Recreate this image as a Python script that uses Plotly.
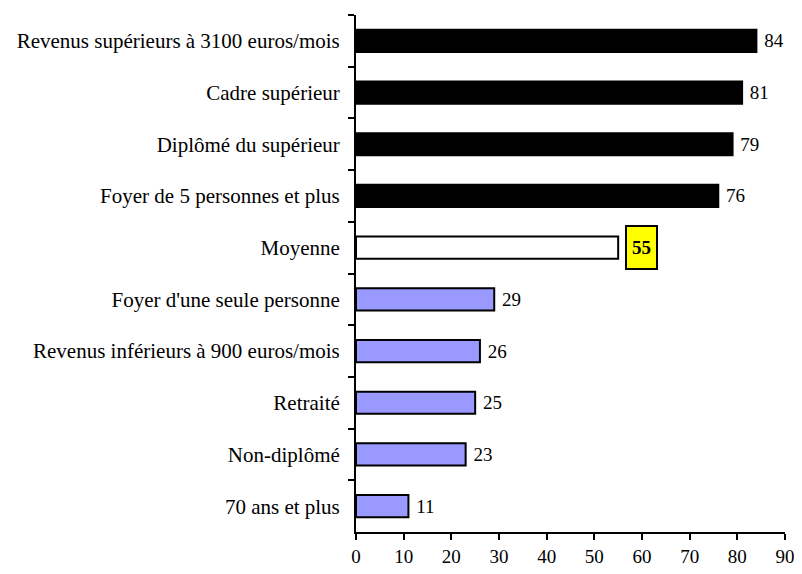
import plotly.graph_objects as go

categories = [
  "Revenus supérieurs à 3100 euros/mois",
  "Cadre supérieur",
  "Diplômé du supérieur",
  "Foyer de 5 personnes et plus",
  "Moyenne",
  "Foyer d'une seule personne",
  "Revenus inférieurs à 900 euros/mois",
  "Retraité",
  "Non-diplômé",
  "70 ans et plus",
]
values = [84, 81, 79, 76, 55, 29, 26, 25, 23, 11]
bar_colors = ["#000000"] * 4 + ["#ffffff"] + ["#9999ff"] * 5
x_ticks = [0, 10, 20, 30, 40, 50, 60, 70, 80, 90]

font_family = "Liberation Serif, Times New Roman, serif"

# leading nbsp gives the gap between bar end and its value
labels = ["" if c == "Moyenne" else "\u00a0" + str(v) for c, v in zip(categories, values)]

fig = go.Figure(
  go.Bar(
    x=values,
    y=categories,
    orientation="h",
    marker={"color": bar_colors, "line": {"color": "#000000", "width": 2}},
    text=labels,
    textposition="outside",
    textfont={"size": 19, "color": "#000000", "family": font_family},
    cliponaxis=False,
    width=0.43,
  )
)

# highlighted average value
fig.add_annotation(
  x=55, y="Moyenne",
  text="<b>55</b>",
  showarrow=False,
  xanchor="left",
  xshift=7,
  bgcolor="#ffff00",
  bordercolor="#000000",
  borderwidth=2,
  borderpad=0,
  width=29,
  height=41,
  font={"size": 19, "color": "#000000", "family": font_family},
)

# page body has an 8px margin, so the figure is 8px smaller than the window
fig.update_layout({
  "width": 794,
  "height": 566,
  "margin": {"l": 348, "r": 13, "t": 7, "b": 42},
  "paper_bgcolor": "#ffffff",
  "plot_bgcolor": "#ffffff",
  "showlegend": False,
  "font": {"family": font_family, "size": 19, "color": "#000000"},
  "xaxis": {
    "range": [0, 90],
    "tickvals": x_ticks,
    "showgrid": False,
    "zeroline": False,
    "showline": True,
    "linecolor": "#000000",
    "linewidth": 2,
    "ticks": "outside",
    "ticklen": 6,
    "tickwidth": 2,
    "tickcolor": "#000000",
    "tickfont": {"size": 19},
  },
  "yaxis": {
    "autorange": "reversed",
    "showgrid": False,
    "showline": True,
    "linecolor": "#000000",
    "linewidth": 2,
    "ticks": "outside",
    "tickson": "boundaries",
    "ticklen": 6,
    "tickwidth": 2,
    "tickcolor": "#000000",
    "tickfont": {"size": 21},
    "ticklabelstandoff": 10,
  },
})

fig.write_html("out.html")
